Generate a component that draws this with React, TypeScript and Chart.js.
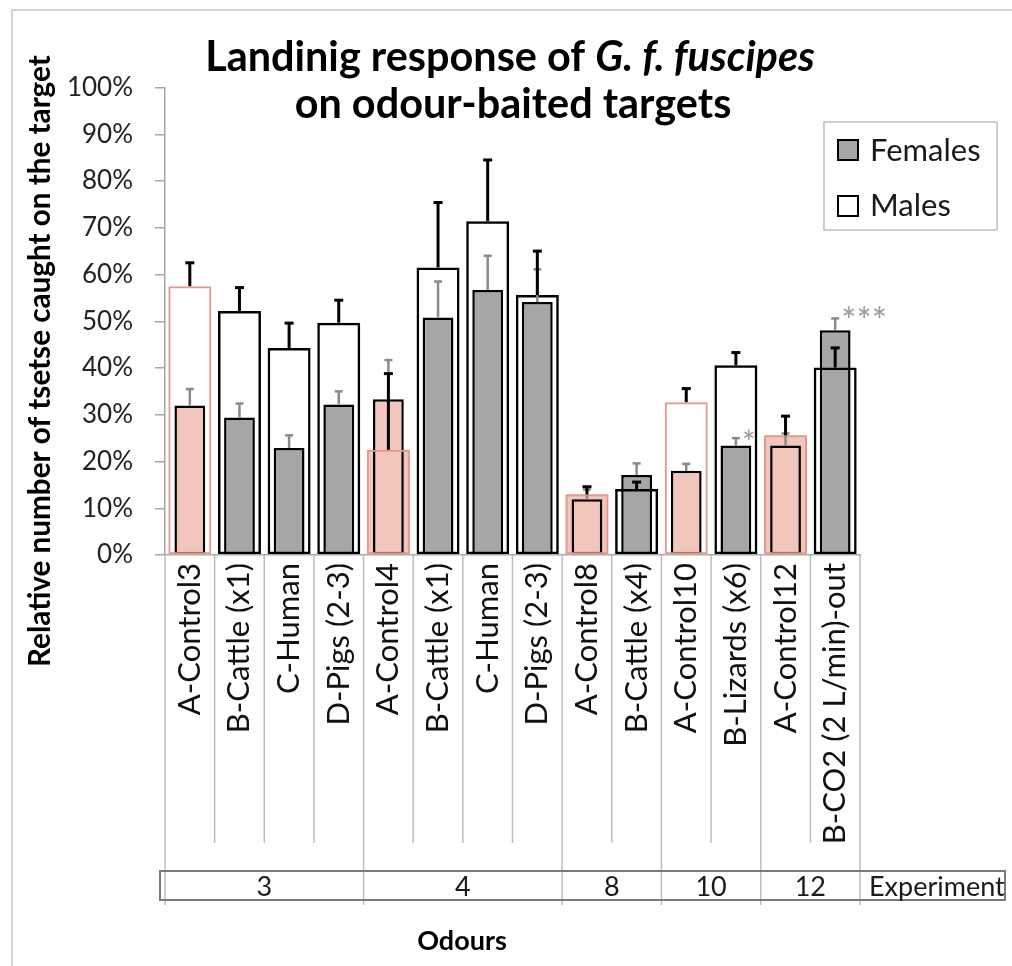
import React, { useEffect, useRef } from 'react';
import { Chart, registerables } from 'chart.js';

Chart.register(...registerables);

const categories = [
  'A-Control3', 'B-Cattle (x1)', 'C-Human', 'D-Pigs (2-3)',
  'A-Control4', 'B-Cattle (x1)', 'C-Human', 'D-Pigs (2-3)',
  'A-Control8', 'B-Cattle (x4)',
  'A-Control10', 'B-Lizards (x6)',
  'A-Control12', 'B-CO2 (2 L/min)-out',
];
const females = [32.0, 29.4, 22.9, 32.2, 33.3, 50.8, 56.7, 54.1, 11.9, 17.1, 18.0, 23.4, 23.4, 48.1];
const femalesErr = [3.5, 3.0, 2.7, 2.8, 8.4, 7.7, 7.3, 7.0, 2.1, 2.5, 1.5, 1.6, 2.6, 2.5];
const males = [57.5, 52.2, 44.3, 49.7, 22.5, 61.5, 71.4, 55.6, 13.0, 14.1, 32.7, 40.6, 25.6, 40.1];
const malesErr = [5.0, 5.0, 5.3, 4.8, 16.3, 13.9, 13.1, 9.4, 1.6, 1.5, 2.9, 2.7, 4.1, 4.2];
const experiments = ['3', '4', '8', '10', '12'];
const experimentSizes = [4, 4, 2, 2, 2];
const signifIndex = [11, 13];
const signifMarks = ['*', '***'];
const yTickValues = [0, 10, 20, 30, 40, 50, 60, 70, 80, 90, 100];

const FONT = 'Lato';
const PINK = '#f3c6bb';
const PINK_BORDER = '#e39a8a';
const GRAY = '#a6a6a6';
const AXIS = '#a6a6a6';

const isControl = categories.map((c) => c.startsWith('A-'));
const malePinkFill = categories.map((c, i) => isControl[i] && males[i] < females[i] + 3);

function fitSize(ctx: CanvasRenderingContext2D, parts: { t: string; f: string }[], target: number) {
  let w = 0;
  for (const p of parts) {
    ctx.font = `${p.f} 100px ${FONT}`;
    w += ctx.measureText(p.t).width;
  }
  return (100 * target) / w;
}

const overlay = {
  id: 'overlay',
  afterDatasetsDraw(chart: any) {
    const ctx: CanvasRenderingContext2D = chart.ctx;
    const y = chart.scales.y;
    const mMeta = chart.getDatasetMeta(0);
    const fMeta = chart.getDatasetMeta(1);
    const drawErr = (meta: any, vals: number[], errs: number[], color: string, lw: number, cap: number) => {
      ctx.save();
      ctx.strokeStyle = color;
      ctx.lineWidth = lw;
      vals.forEach((v, i) => {
        const bx = meta.data[i].x;
        const y0 = y.getPixelForValue(v);
        const y1 = y.getPixelForValue(v + errs[i]);
        ctx.beginPath();
        ctx.moveTo(bx, y0);
        ctx.lineTo(bx, y1);
        ctx.stroke();
        ctx.beginPath();
        ctx.moveTo(bx - cap / 2, y1);
        ctx.lineTo(bx + cap / 2, y1);
        ctx.stroke();
      });
      ctx.restore();
    };
    drawErr(fMeta, females, femalesErr, '#8a8a8a', 2.5, 8);
    drawErr(mMeta, males, malesErr, '#000', 3, 9);

    ctx.save();
    ctx.fillStyle = '#9a9a9a';
    ctx.textAlign = 'left';
    ctx.textBaseline = 'alphabetic';
    signifIndex.forEach((idx, k) => {
      const bx = fMeta.data[idx].x;
      const ey = y.getPixelForValue(females[idx] + femalesErr[idx]);
      ctx.font = `${k === 0 ? 32 : 36}px ${FONT}`;
      ctx.fillText(signifMarks[k], bx + 6, ey + 16);
    });
    ctx.restore();
  },
  afterDraw(chart: any) {
    const ctx: CanvasRenderingContext2D = chart.ctx;
    const x = chart.scales.x;
    const area = chart.chartArea;
    const n = categories.length;
    const cw = (area.right - area.left) / n;
    const edge = (i: number) => (i < n ? x.getPixelForValue(i) - cw / 2 : x.getPixelForValue(n - 1) + cw / 2);

    ctx.save();
    // outer frame
    ctx.strokeStyle = '#d4d4d4';
    ctx.lineWidth = 2;
    ctx.beginPath();
    ctx.moveTo(12, 1000);
    ctx.lineTo(12, 10);
    ctx.lineTo(1030, 10);
    ctx.stroke();

    // category separators
    const groupEdges: number[] = [0];
    experimentSizes.forEach((s) => groupEdges.push(groupEdges[groupEdges.length - 1] + s));
    ctx.strokeStyle = '#bdbdbd';
    ctx.lineWidth = 1.5;
    for (let i = 0; i <= n; i++) {
      const ex = edge(i);
      const isGroup = groupEdges.includes(i);
      ctx.beginPath();
      ctx.moveTo(ex, area.bottom);
      ctx.lineTo(ex, isGroup ? 905 : 843);
      ctx.stroke();
    }
    // experiment box
    const boxL = edge(0) - 5;
    const boxR = 1005;
    ctx.strokeStyle = '#7a7a7a';
    ctx.lineWidth = 2;
    ctx.strokeRect(boxL, 871, boxR - boxL, 29);
    ctx.fillStyle = '#1a1a1a';
    ctx.font = `27px ${FONT}`;
    ctx.textAlign = 'center';
    ctx.textBaseline = 'middle';
    experiments.forEach((e, k) => {
      const cx = (edge(groupEdges[k]) + edge(groupEdges[k + 1])) / 2;
      ctx.fillText(e, cx, 887);
    });
    ctx.textAlign = 'left';
    ctx.fillText('Experiment', edge(n) + 9, 887);

    // x title
    ctx.font = `bold 27px ${FONT}`;
    ctx.textAlign = 'center';
    ctx.fillStyle = '#000';
    ctx.fillText('Odours', 462, 941);

    // y title
    const yTitle = 'Relative number of tsetse caught on the target';
    const ys = fitSize(ctx, [{ t: yTitle, f: 'bold' }], 612);
    ctx.save();
    ctx.translate(40, 667);
    ctx.rotate(-Math.PI / 2);
    ctx.font = `bold ${ys}px ${FONT}`;
    ctx.textAlign = 'left';
    ctx.textBaseline = 'middle';
    ctx.fillText(yTitle, 0, 0);
    ctx.restore();

    // title
    const t1a = 'Landinig response of ';
    const t1b = 'G. f. fuscipes';
    const ts = fitSize(ctx, [{ t: t1a, f: 'bold' }, { t: t1b, f: 'italic bold' }], 610);
    ctx.font = `bold ${ts}px ${FONT}`;
    const wa = ctx.measureText(t1a).width;
    ctx.font = `italic bold ${ts}px ${FONT}`;
    const wb = ctx.measureText(t1b).width;
    const startX = 510 - (wa + wb) / 2;
    ctx.textAlign = 'left';
    ctx.textBaseline = 'alphabetic';
    ctx.font = `bold ${ts}px ${FONT}`;
    ctx.fillText(t1a, startX, 71);
    ctx.font = `italic bold ${ts}px ${FONT}`;
    ctx.fillText(t1b, startX + wa, 71);
    ctx.font = `bold ${ts}px ${FONT}`;
    ctx.textAlign = 'center';
    ctx.fillText('on odour-baited targets', 513, 118);

    // legend
    ctx.fillStyle = '#fff';
    ctx.fillRect(824, 122, 173, 108);
    ctx.strokeStyle = '#bfbfbf';
    ctx.lineWidth = 1.5;
    ctx.strokeRect(824, 122, 173, 108);
    ctx.lineWidth = 2;
    ctx.strokeStyle = '#000';
    ctx.fillStyle = GRAY;
    ctx.fillRect(838, 140, 20, 20);
    ctx.strokeRect(838, 140, 20, 20);
    ctx.fillStyle = '#fff';
    ctx.fillRect(838, 196, 20, 20);
    ctx.strokeRect(838, 196, 20, 20);
    ctx.fillStyle = '#1a1a1a';
    ctx.font = `31px ${FONT}`;
    ctx.textAlign = 'left';
    ctx.textBaseline = 'middle';
    ctx.fillText(chart.data.datasets[1].label, 870, 151);
    ctx.fillText(chart.data.datasets[0].label, 870, 206);
    ctx.restore();
  },
};

export default function App() {
  const ref = useRef<HTMLCanvasElement | null>(null);
  useEffect(() => {
    if (!ref.current) return;
    const chart = new Chart(ref.current, {
      type: 'bar',
      data: {
        labels: categories,
        datasets: [
          {
            label: 'Males',
            data: males,
            grouped: false,
            order: 0,
            backgroundColor: 'rgba(0,0,0,0)',
            borderColor: categories.map((_, i) => (isControl[i] ? PINK_BORDER : '#000')),
            borderWidth: categories.map((_, i) => (isControl[i] ? 2 : 2.5)),
            borderSkipped: false,
            barPercentage: 0.866,
            categoryPercentage: 1,
          } as any,
          {
            label: 'Females',
            data: females,
            grouped: false,
            order: 1,
            backgroundColor: categories.map((_, i) => (isControl[i] ? PINK : GRAY)),
            borderColor: '#000',
            borderWidth: 2.5,
            borderSkipped: false,
            barPercentage: 0.62,
            categoryPercentage: 1,
          } as any,
          {
            label: '',
            data: males,
            grouped: false,
            order: 2,
            backgroundColor: categories.map((_, i) => (malePinkFill[i] ? PINK : '#ffffff')),
            borderWidth: 0,
            barPercentage: 0.866,
            categoryPercentage: 1,
          } as any,
        ],
      },
      options: {
        responsive: false,
        animation: false,
        devicePixelRatio: 1,
        layout: { padding: { top: 87.5, right: 152, bottom: 0, left: 0 } },
        plugins: {
          legend: { display: false },
          tooltip: { enabled: false },
          title: { display: false },
        },
        scales: {
          x: {
            type: 'category',
            grid: { display: true, drawOnChartArea: false, drawTicks: false },
            border: { color: AXIS, width: 1.5 },
            ticks: {
              autoSkip: false,
              minRotation: 90,
              maxRotation: 90,
              padding: 8,
              font: { family: FONT, size: 31 },
              color: '#111',
            },
            afterFit: (s: any) => {
              s.height = 411;
            },
          },
          y: {
            min: 0,
            max: 100,
            afterBuildTicks: (s: any) => {
              s.ticks = yTickValues.map((v) => ({ value: v }));
            },
            ticks: {
              callback: (v: any) => `${v}%`,
              font: { family: FONT, size: 26 },
              color: '#222',
              padding: 22,
            },
            grid: { drawOnChartArea: false, drawTicks: true, tickLength: 10, color: AXIS, lineWidth: 1.5 },
            border: { color: AXIS, width: 1.5 },
            afterFit: (s: any) => {
              s.width = 165;
            },
          },
        },
      } as any,
      plugins: [overlay],
    });
    return () => chart.destroy();
  }, []);
  return (
    <div style={{ position: 'absolute', left: 0, top: 0, width: 1012, height: 966, background: '#fff' }}>
      <canvas ref={ref} width={1012} height={966} style={{ display: 'block' }} />
    </div>
  );
}
